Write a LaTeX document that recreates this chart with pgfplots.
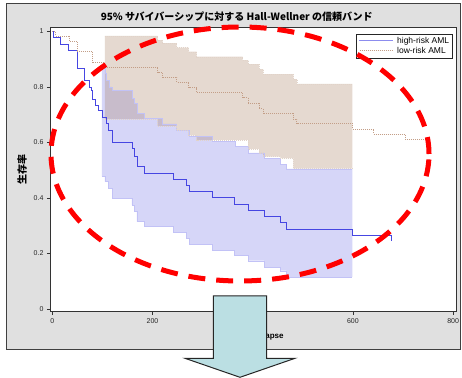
\documentclass[border=0pt]{standalone}
\usepackage{fontspec}
\setmainfont{Liberation Sans}
\newfontfamily\jp{Noto Sans CJK JP}
\usepackage{pgfplots}
\pgfplotsset{compat=1.18}
\definecolor{panelgray}{RGB}{224,224,224}
\definecolor{hiline}{RGB}{70,70,226}
\definecolor{hiband}{RGB}{120,120,235}
\definecolor{loband}{RGB}{170,130,100}
\definecolor{loline}{RGB}{195,158,135}
\definecolor{legblue}{RGB}{140,140,238}
\definecolor{arrowfill}{RGB}{187,223,227}
\newcommand{\legsolid}{\textcolor{legblue}{\rule[0.55ex]{34pt}{1.4pt}}}
\newcommand{\legdots}{\textcolor{loline}{\hbox to 34pt{\leaders\hbox to 2pt{\hss\rule[0.6ex]{1pt}{0.8pt}\hss}\hfill}}}
\begin{document}
\begin{tikzpicture}[x=1pt,y=1pt]
\fill[panelgray] (6,28) rectangle (460,374);
\draw[black!75, line width=0.8pt] (6,28) rectangle (460,374);
\begin{axis}[
  at={(50pt,65.3pt)}, anchor=south west,
  scale only axis, width=406pt, height=284.4pt,
  xmin=-4.6, xmax=805.8, ymin=-0.0097, ymax=1.0151,
  axis background/.style={fill=white},
  axis line style={draw=black!80, line width=0.8pt},
  tick pos=left, tick align=outside, major tick length=3pt,
  tick style={black!80, line width=0.6pt},
  xtick={0,200,400,600,800}, ytick={0,0.2,0.4,0.6,0.8,1},
  tick label style={font=\fontsize{7}{8}\selectfont, text=black!85},
  /pgf/number format/assume math mode=true,
  xlabel={Time to Relapse},
  xlabel style={font=\bfseries\fontsize{8}{9}\selectfont, at={(axis description cs:0.5,-0.088)}, anchor=center},
  ylabel={\jp\bfseries 生存率},
  ylabel style={font=\fontsize{10}{11}\selectfont, at={(axis description cs:-0.069,0.5)}, anchor=center},
  legend style={at={(axis description cs:1,1)}, anchor=north east, xshift=-3.7pt, yshift=-7pt,
    draw=black!85, fill=white, font=\fontsize{8.5}{9.5}\selectfont,
    inner sep=1pt, row sep=-1.5pt, cells={anchor=west}},
  legend image code/.code={},
]
% high-risk band (upper bound forward, lower bound back)
\addplot[fill=hiband, fill opacity=0.3, draw=none, forget plot] coordinates {
(99,0.867) (105,0.867) (105,0.849) (108,0.849) (108,0.825) (113,0.825) (113,0.80) (119,0.80)
(119,0.789) (159,0.789) (159,0.760) (164,0.760) (164,0.741) (169,0.741) (169,0.705) (184,0.705)
(184,0.687) (220,0.687) (220,0.667) (248,0.667) (248,0.645) (273,0.645) (273,0.623) (319,0.623)
(319,0.605) (365,0.605) (365,0.585) (391,0.585) (391,0.563) (423,0.563) (423,0.544) (455,0.544)
(455,0.52) (467,0.52) (467,0.505) (599,0.505)
(599,0.116) (467,0.116) (467,0.138) (455,0.138) (455,0.152) (423,0.152) (423,0.174) (391,0.174)
(391,0.195) (363,0.195) (363,0.213) (319,0.213) (319,0.234) (273,0.234) (273,0.255) (267,0.255)
(267,0.275) (242,0.275) (242,0.297) (184,0.297) (184,0.315) (169,0.315) (169,0.351) (164,0.351)
(164,0.375) (159,0.375) (159,0.399) (120,0.399) (120,0.435) (112,0.435) (112,0.459) (105,0.459)
(105,0.479) (99,0.479)};
% low-risk band
\addplot[fill=loband, fill opacity=0.3, draw=none, forget plot] coordinates {
(105,0.984) (210,0.984) (210,0.969) (220,0.969) (220,0.958) (248,0.958) (248,0.942) (272,0.942)
(272,0.927) (288,0.927) (288,0.909) (380,0.909) (380,0.897) (391,0.897) (391,0.882) (413,0.882)
(413,0.864) (421,0.864) (421,0.846) (481,0.846) (481,0.828) (488,0.828) (488,0.811) (599,0.811)
(599,0.507) (481,0.507) (481,0.544) (455,0.544) (455,0.549) (421,0.549) (421,0.560) (413,0.560)
(413,0.577) (391,0.577) (391,0.609) (288,0.609) (288,0.626) (272,0.626) (272,0.643) (248,0.643)
(248,0.660) (210,0.660) (210,0.685) (105,0.685)};
% band edges
\addplot[const plot, draw=hiband!45, line width=0.4pt, forget plot] coordinates {
(99,0.867) (105,0.849) (108,0.825) (113,0.80) (119,0.789) (159,0.760) (164,0.741) (169,0.705)
(184,0.687) (220,0.667) (248,0.645) (273,0.623) (319,0.605) (365,0.585) (391,0.563)
(423,0.544) (455,0.52) (467,0.505) (599,0.505)};
\addplot[const plot, draw=hiband!45, line width=0.4pt, forget plot] coordinates {
(99,0.479) (105,0.459) (112,0.435) (120,0.399) (159,0.375) (164,0.351) (169,0.315) (184,0.297)
(242,0.275) (267,0.255) (273,0.234) (319,0.213) (363,0.195) (391,0.174) (423,0.152)
(455,0.138) (467,0.116) (599,0.116)};
\addplot[const plot, draw=loband!35, line width=0.4pt, dash pattern=on 1pt off 1pt, forget plot] coordinates {
(105,0.984) (210,0.969) (220,0.958) (248,0.942) (272,0.927) (288,0.909) (380,0.897) (391,0.882)
(413,0.864) (421,0.846) (481,0.828) (488,0.811) (599,0.811)};
\addplot[const plot, draw=loband!35, line width=0.4pt, dash pattern=on 1pt off 1pt, forget plot] coordinates {
(105,0.685) (210,0.660) (248,0.643) (272,0.626) (288,0.609) (391,0.577) (413,0.560) (421,0.549)
(455,0.544) (481,0.507) (599,0.507)};
% curves
\addplot[const plot, draw=hiline, line width=0.7pt, forget plot] coordinates {
(0,1) (2,0.978) (17,0.955) (32,0.931) (49,0.867) (64,0.823) (74,0.80) (77,0.789) (80,0.757)
(85,0.735) (92,0.715) (99,0.691) (107,0.669) (112,0.645) (119,0.60) (159,0.579) (164,0.549)
(169,0.513) (184,0.489) (242,0.467) (267,0.444) (273,0.423) (319,0.401) (363,0.378)
(391,0.354) (423,0.333) (455,0.312) (467,0.288) (599,0.267) (677,0.267) (677,0.246)};
\addplot[const plot, draw=loline, line width=0.7pt, dash pattern=on 1pt off 1pt, forget plot] coordinates {
(0,1) (7,0.984) (35,0.963) (50,0.930) (79,0.888) (104,0.871) (210,0.852) (220,0.835)
(248,0.817) (272,0.798) (288,0.780) (380,0.762) (391,0.741) (413,0.723) (421,0.705)
(481,0.684) (488,0.669) (599,0.649) (641,0.630) (704,0.613) (747,0.613) (747,0.60)};
\addlegendimage{empty legend}
\addlegendentry{\legsolid\hspace{4pt}high-risk AML}
\addlegendimage{empty legend}
\addlegendentry{\legdots\hspace{4pt}low-risk AML}
\end{axis}
\node[font=\jp\bfseries\fontsize{10}{12}\selectfont, inner sep=0pt] at (236.7,360.3) {95\% サバイバーシップに対する Hall-Wellner の信頼バンド};
\draw[red, line width=5pt, dash pattern=on 17pt off 11pt] (240,223) ellipse [x radius=189, y radius=127];
\draw[fill=arrowfill, draw=black!85, line width=1pt] (213.3,81) -- (213.3,18.7) -- (185,18.7) -- (240,-0.3) -- (295,18.7) -- (266.7,18.7) -- (266.7,81) -- cycle;
\pgfresetboundingbox
\useasboundingbox (0,0) rectangle (462,377);
\end{tikzpicture}
\end{document}
